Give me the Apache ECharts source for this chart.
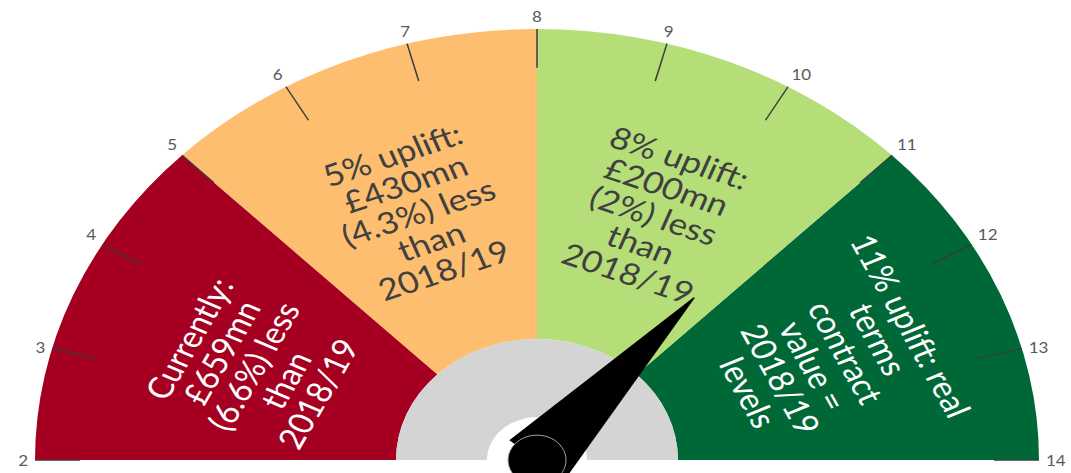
<!DOCTYPE html>
<html>
<head>
<meta charset="utf-8">
<script src="https://cdn.jsdelivr.net/npm/echarts@6/dist/echarts.min.js"></script>
<style>
  html, body { margin: 0; padding: 0; background: #ffffff; }
  #wrap { position: relative; width: 1071px; height: 473px; overflow: hidden; background: #ffffff; }
  #gauge { position: absolute; left: 0; top: 0; width: 1071px; height: 551px; transform: scaleY(0.8586); transform-origin: 0 0; }
</style>
</head>
<body>
<div id="wrap">
  <div id="gauge"></div>
</div>
<script>
// ---- data ----
const scaleMin = 2;
const scaleMax = 14;
const bandBreaks = [5, 8, 11, 14];           // upper end of each coloured band
const bandColors = ['#A50021', '#FDBE6F', '#B5DE78', '#006837'];
const needleValue = 10.65;
const bandTexts = [
  'Currently:\n£659mn\n(6.6%) less\nthan\n2018/19',
  '5% uplift:\n£430mn\n(4.3%) less\nthan\n2018/19',
  '8% uplift:\n£200mn\n(2%) less\nthan\n2018/19',
  '11% uplift: real\nterms\ncontract\nvalue =\n2018/19\nlevels'
];
const bandTextColors = ['#ffffff', '#404040', '#404040', '#ffffff'];

// ---- geometry (drawn in an unsquashed frame, then squashed vertically) ----
const SY = 0.8586;
const CX = 537, CY = 535.8, R = 502;
const R_IN = 141, R_HOLE = 50;

const span = scaleMax - scaleMin;
const axisColors = bandBreaks.map((b, i) => [(b - scaleMin) / span, bandColors[i]]);

const notePos = [
  { x: 253, y: 366 / SY, rot: 63.5 },
  { x: 418, y: 212 / SY, rot: 21 },
  { x: 654, y: 215 / SY, rot: -21 },
  { x: 830, y: 359 / SY, rot: -64.5 }
];

const gauge = echarts.init(document.getElementById('gauge'), null, { renderer: 'svg' });
gauge.setOption({
  animation: false,
  polar: { center: [CX, CY], radius: R },
  angleAxis: {
    type: 'value', min: scaleMin, max: scaleMin + 2 * span, interval: 1,
    startAngle: 180, clockwise: true,
    axisLine: { show: false }, axisTick: { show: false }, splitLine: { show: false },
    axisLabel: {
      margin: 7, color: '#595959', fontSize: 17, fontFamily: 'Lato',
      formatter: v => (v <= scaleMax ? String(v) : '')
    }
  },
  radiusAxis: { show: false, min: 0, max: 1 },
  graphic: bandTexts.map((t, i) => ({
    type: 'text', z: 100,
    x: notePos[i].x, y: notePos[i].y,
    rotation: notePos[i].rot * Math.PI / 180,
    style: {
      text: t, fill: bandTextColors[i],
      font: '35px Lato', lineHeight: 36,
      align: 'center', verticalAlign: 'middle'
    }
  })),
  series: [
    {
      type: 'gauge', center: [CX, CY], radius: R,
      startAngle: 180, endAngle: 0, min: scaleMin, max: scaleMax, splitNumber: span,
      axisLine: { lineStyle: { width: R - R_IN, color: axisColors } },
      axisTick: { show: false },
      splitLine: { distance: -(R - R_IN), length: 45, lineStyle: { color: '#3a3a3a', width: 1.5 } },
      axisLabel: { show: false },
      pointer: { show: false }, anchor: { show: false },
      title: { show: false }, detail: { show: false },
      data: [{ value: needleValue }]
    },
    {
      type: 'gauge', center: [CX, CY], radius: R_IN,
      startAngle: 180, endAngle: 0, min: scaleMin, max: scaleMax,
      axisLine: { lineStyle: { width: R_IN - R_HOLE, color: [[1, '#D4D4D4']] } },
      axisTick: { show: false }, splitLine: { show: false }, axisLabel: { show: false },
      pointer: { show: false }, anchor: { show: false },
      title: { show: false }, detail: { show: false },
      data: [{ value: needleValue }]
    },
    {
      type: 'gauge', center: [CX, CY], radius: R,
      startAngle: 180, endAngle: 0, min: scaleMin, max: scaleMax,
      axisLine: { show: false },
      axisTick: { show: false }, splitLine: { show: false }, axisLabel: { show: false },
      pointer: {
        show: true, icon: 'path://M0,100 L49,0 L51,0 L100,100 Z',
        length: '49%', width: 72, itemStyle: { color: '#000000' }
      },
      anchor: { show: true, showAbove: true, size: 58, itemStyle: { color: '#000000', borderColor: '#b0b0b0', borderWidth: 1 } },
      title: { show: false }, detail: { show: false },
      data: [{ value: needleValue }]
    }
  ]
});
</script>
</body>
</html>
